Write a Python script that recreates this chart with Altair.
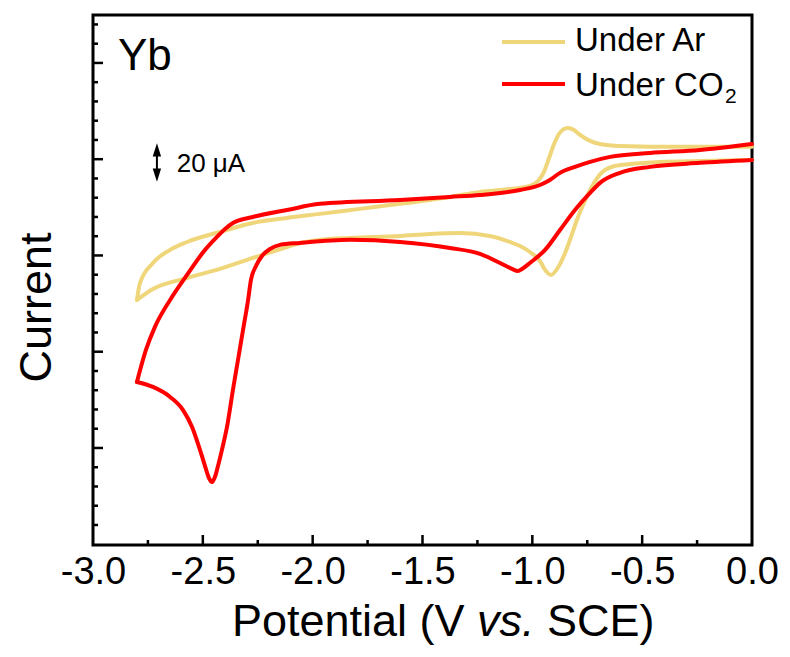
import altair as alt
import pandas as pd

# ---------------- data (Potential in V vs SCE, current in uA; arbitrary offset) -------------
ar_lower_V = [0.000, -0.237, -0.419, -0.555, -0.624, -0.669, -0.701, -0.737, -0.769, -0.797,
              -0.824, -0.851, -0.879, -0.915, -0.942, -0.965, -1.011, -1.056, -1.102, -1.193,
              -1.329, -1.466, -1.602, -1.830, -1.967, -2.058, -2.117, -2.272, -2.422, -2.572,
              -2.727, -2.800]
ar_lower_I = [149.6, 149.1, 148.6, 147.5, 146.5, 144.4, 140.8, 134.0, 126.2, 118.4,
              109.6, 101.3, 94.5, 89.9, 92.5, 97.1, 101.8, 104.9, 107.0, 110.1,
              111.7, 111.2, 110.1, 109.1, 108.1, 106.5, 104.4, 98.7, 93.0, 88.3,
              82.6, 76.9]
ar_upper_V = [-2.800, -2.786, -2.727, -2.649, -2.572, -2.422, -2.272, -2.117, -1.967, -1.785,
              -1.602, -1.375, -1.238, -1.102, -1.011, -0.974, -0.947, -0.924, -0.901, -0.879,
              -0.856, -0.838, -0.810, -0.783, -0.737, -0.692, -0.601, -0.328, 0.000]
ar_upper_I = [76.9, 85.7, 96.1, 102.9, 107.0, 112.2, 116.9, 119.5, 121.6, 124.2,
              126.8, 130.4, 133.0, 134.5, 136.1, 138.7, 143.4, 150.6, 157.9, 163.1,
              165.7, 166.2, 165.2, 162.6, 159.5, 157.9, 156.9, 156.4, 156.4]

co2_lower_V = [0.000, -0.237, -0.464, -0.601, -0.692, -0.737, -0.806, -0.874, -0.942, -1.011,
               -1.047, -1.065, -1.093, -1.147, -1.238, -1.375, -1.602, -1.830, -2.058, -2.149,
               -2.194, -2.231, -2.258, -2.281, -2.294, -2.317, -2.340, -2.363, -2.390, -2.413,
               -2.431, -2.445, -2.458, -2.472, -2.490, -2.513, -2.549, -2.590, -2.649, -2.727,
               -2.800]
co2_lower_I = [149.6, 148.1, 146.0, 142.9, 137.7, 132.5, 123.6, 113.2, 102.9, 96.1,
               93.0, 91.9, 93.0, 96.1, 100.8, 103.9, 107.0, 108.1, 106.5, 105.5,
               103.4, 99.7, 94.5, 87.3, 76.9, 61.3, 45.7, 30.1, 10.9, -1.0,
               -9.4, -15.1, -17.7, -15.6, -9.4, -1.0, 10.9, 19.7, 26.5, 31.7,
               34.3]
co2_upper_V = [-2.800, -2.759, -2.718, -2.649, -2.572, -2.490, -2.436, -2.399, -2.363, -2.272,
               -2.117, -1.967, -1.602, -1.375, -1.238, -1.056, -0.965, -0.920, -0.874, -0.806,
               -0.737, -0.646, -0.464, -0.237, 0.000]
co2_upper_I = [34.3, 50.9, 62.9, 76.9, 89.9, 102.9, 109.6, 113.8, 116.9, 120.0,
               123.6, 126.8, 128.8, 130.4, 131.4, 134.0, 136.6, 139.2, 142.9, 146.0,
               148.6, 151.2, 153.2, 154.8, 157.9]

x_label_values = [-3.0, -2.5, -2.0, -1.5, -1.0, -0.5, 0.0]
x_major_ticks = [-2.5, -2.0, -1.5, -1.0, -0.5]
x_minor_ticks = [-2.75, -2.25, -1.75, -1.25, -0.75, -0.25]
y_major_ticks = [0, 50, 100, 150, 200]
y_minor_ticks = [v for v in range(-40, 230, 10) if v % 50 != 0]

scalebar_V = -2.709
scalebar_I = [138.3, 158.3]   # 20 uA
scalebar_text = "20 \u03bcA"

legend_labels = ["Under Ar", "Under CO"]
AR_COLOR = "#F0D67A"
CO2_COLOR = "#FF0000"
FONT = "Liberation Sans"


def branch_frame(V, I, branch):
    return pd.DataFrame({"V": V, "I": I, "branch": branch})


ar_df = pd.concat([branch_frame(ar_lower_V, ar_lower_I, "lower"),
                   branch_frame(ar_upper_V, ar_upper_I, "upper")], ignore_index=True)
co2_df = pd.concat([branch_frame(co2_lower_V, co2_lower_I, "lower"),
                    branch_frame(co2_upper_V, co2_upper_I, "upper")], ignore_index=True)

xs = alt.Scale(domain=[-3.0, 0.0], nice=False, zero=False)
ys = alt.Scale(domain=[-50.4, 224.9], nice=False, zero=False)

x_axis = alt.Axis(values=x_label_values,
                  labelExpr="(datum.value < 0 ? '-' : '') + format(abs(datum.value), '.1f')",
                  ticks=False, domain=False, grid=False, title=None,
                  labelFontSize=38, labelPadding=8, labelColor="black", labelFont=FONT,
                  labelFlush=False, labelOverlap=False)
y_axis = alt.Axis(labels=False, ticks=False, domain=False, grid=False,
                  title="Current", titleFontSize=45, titleFontWeight="normal",
                  titleAngle=270, titleX=-43, titleY=292, titleBaseline="alphabetic",
                  titleAlign="center", titleColor="black", titleFont=FONT)

X = alt.X("V:Q", scale=xs, axis=x_axis)
Y = alt.Y("I:Q", scale=ys, axis=y_axis)

line_kw = dict(strokeWidth=4, interpolate="monotone", strokeCap="round", strokeJoin="round")

ar_line = alt.Chart(ar_df).mark_line(color=AR_COLOR, **line_kw).encode(
    x=X, y=Y, detail="branch:N", order=alt.Order("V:Q"))
co2_line = alt.Chart(co2_df).mark_line(color=CO2_COLOR, **line_kw).encode(
    x=X, y=Y, detail="branch:N", order=alt.Order("V:Q"))

# inward ticks
xt_major = alt.Chart(pd.DataFrame({"V": x_major_ticks})).mark_rule(color="black", strokeWidth=2.5).encode(
    x=X, y=alt.value(530), y2=alt.value(520))
xt_minor = alt.Chart(pd.DataFrame({"V": x_minor_ticks})).mark_rule(color="black", strokeWidth=2.5).encode(
    x=X, y=alt.value(530), y2=alt.value(525))
yt_major = alt.Chart(pd.DataFrame({"I": y_major_ticks})).mark_rule(color="black", strokeWidth=2.5).encode(
    y=Y, x=alt.value(0), x2=alt.value(10))
yt_minor = alt.Chart(pd.DataFrame({"I": y_minor_ticks})).mark_rule(color="black", strokeWidth=2.5).encode(
    y=Y, x=alt.value(0), x2=alt.value(5))

# scale bar
sb_df = pd.DataFrame({"V": [scalebar_V], "I": [scalebar_I[0] + 3.5], "I2": [scalebar_I[1] - 3.5]})
sb_rule = alt.Chart(sb_df).mark_rule(color="black", strokeWidth=2).encode(x=X, y=Y, y2="I2:Q")
sb_up = alt.Chart(pd.DataFrame({"V": [scalebar_V], "I": [scalebar_I[1] - 3.6]})).mark_point(
    shape="M0,-1L0.6,0.9L-0.6,0.9Z", size=196, filled=True, color="black", opacity=1).encode(x=X, y=Y)
sb_dn = alt.Chart(pd.DataFrame({"V": [scalebar_V], "I": [scalebar_I[0] + 3.6]})).mark_point(
    shape="M0,1L0.6,-0.9L-0.6,-0.9Z", size=196, filled=True, color="black", opacity=1).encode(x=X, y=Y)
sb_text = alt.Chart(pd.DataFrame({"V": [scalebar_V + 0.09], "I": [sum(scalebar_I) / 2 - 1], "t": [scalebar_text]})).mark_text(
    align="left", baseline="middle", fontSize=26, font=FONT, color="black").encode(x=X, y=Y, text="t:N")

# panel label
yb = alt.Chart(pd.DataFrame({"t": ["Yb"]})).mark_text(
    align="left", baseline="alphabetic", fontSize=44, font=FONT, color="black").encode(
    text="t:N", x=alt.value(25), y=alt.value(55))

# legend
leg_ar_line = alt.Chart(pd.DataFrame({"a": [0]})).mark_rule(color=AR_COLOR, strokeWidth=4).encode(
    x=alt.value(409), x2=alt.value(472), y=alt.value(27))
leg_co2_line = alt.Chart(pd.DataFrame({"a": [0]})).mark_rule(color=CO2_COLOR, strokeWidth=4).encode(
    x=alt.value(409), x2=alt.value(472), y=alt.value(69))
leg_ar_text = alt.Chart(pd.DataFrame({"t": [legend_labels[0]]})).mark_text(
    align="left", baseline="alphabetic", fontSize=33, font=FONT, color="black").encode(
    text="t:N", x=alt.value(482), y=alt.value(36))
leg_co2_text = alt.Chart(pd.DataFrame({"t": [legend_labels[1]]})).mark_text(
    align="left", baseline="alphabetic", fontSize=33, font=FONT, color="black").encode(
    text="t:N", x=alt.value(482), y=alt.value(81))
leg_co2_sub = alt.Chart(pd.DataFrame({"t": ["2"]})).mark_text(
    align="left", baseline="alphabetic", fontSize=21, font=FONT, color="black").encode(
    text="t:N", x=alt.value(632), y=alt.value(88))

# x-axis title with italic "vs."
xt1 = alt.Chart(pd.DataFrame({"t": ["Potential (V"]})).mark_text(
    align="left", baseline="alphabetic", fontSize=45, font=FONT, color="black").encode(
    text="t:N", x=alt.value(139), y=alt.value(621))
xt2 = alt.Chart(pd.DataFrame({"t": ["vs."]})).mark_text(
    align="left", baseline="alphabetic", fontSize=45, font=FONT, fontStyle="italic", color="black").encode(
    text="t:N", x=alt.value(384), y=alt.value(621))
xt3 = alt.Chart(pd.DataFrame({"t": ["SCE)"]})).mark_text(
    align="left", baseline="alphabetic", fontSize=45, font=FONT, color="black").encode(
    text="t:N", x=alt.value(454), y=alt.value(621))

chart = alt.layer(
    ar_line, co2_line, xt_major, xt_minor, yt_major, yt_minor,
    sb_rule, sb_up, sb_dn, sb_text, yb,
    leg_ar_line, leg_co2_line, leg_ar_text, leg_co2_text, leg_co2_sub,
    xt1, xt2, xt3,
).properties(
    width=659, height=530,
    autosize=alt.AutoSizeParams(type="none"),
    padding={"left": 85, "top": 7, "right": 26, "bottom": 100},
).configure(font=FONT).configure_view(stroke="black", strokeWidth=3)

chart.save("out.html", embed_options={"renderer": "svg", "actions": False})
